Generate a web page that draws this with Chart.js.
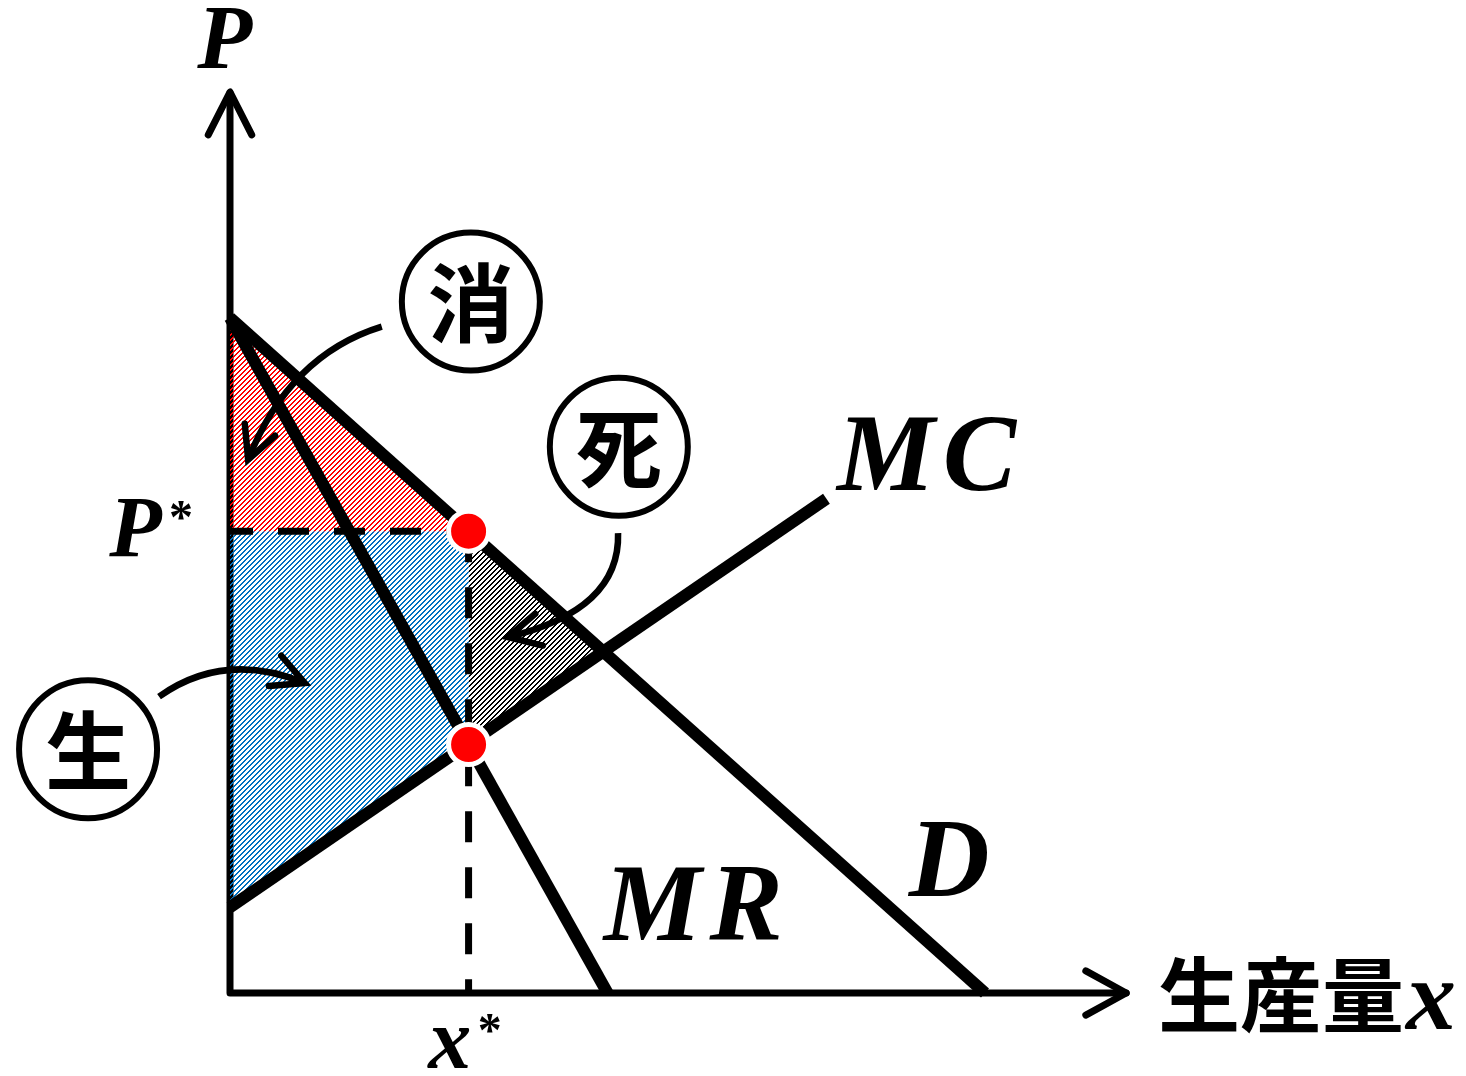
<!DOCTYPE html>
<html lang="ja">
<head>
<meta charset="UTF-8">
<title>独占市場の余剰</title>
<script src="https://cdn.jsdelivr.net/npm/chart.js"></script>
<style>
    body {
        margin: 0;
        background: #ffffff;
    }
    #wrap {
        width: 1466px;
        height: 1076px;
    }
</style>
</head>
<body>
<div id="wrap"><canvas id="chart" width="1466" height="1076"></canvas></div>
<script>
// curves (x = 生産量, y = P), end points
const demandLine = [{x: 0, y: 100}, {x: 100, y: 0}];
const mrLine = [{x: 0, y: 100}, {x: 50, y: 0}];
const mcLine = [{x: 0, y: 12.7}, {x: 79, y: 73.2}];

// monopoly equilibrium: MR = MC at x*, price on D
const xStar = 31.6;
const pStar = 68.4;
const mcAtStar = 36.8;
const dCrossMc = {x: 49.55, y: 50.45};

// surplus areas (closed polygons)
const consumerArea = [{x: 0, y: 100}, {x: xStar, y: pStar}, {x: 0, y: pStar}, {x: 0, y: 100}];
const producerArea = [{x: 0, y: pStar}, {x: xStar, y: pStar}, {x: xStar, y: mcAtStar}, {x: 0, y: 12.7}, {x: 0, y: pStar}];
const deadweightArea = [{x: xStar, y: pStar}, dCrossMc, {x: xStar, y: mcAtStar}, {x: xStar, y: pStar}];

const equilibriumPoints = [{x: xStar, y: pStar}, {x: xStar, y: mcAtStar}];

// axis extent
const xMax = 120;
const yMax = 133;
const xArrowEnd = 118.7;

// annotations, in data units
const circleNotes = [
    {text: '消', x: 31.9, y: 102.4},
    {text: '死', x: 51.5, y: 80.9},
    {text: '生', x: -18.8, y: 36.1}
];
const arrowNotes = [
    {from: [20.1, 98.7], ctrl: [7.9, 94.5], to: [2.4, 79.0]},
    {from: [51.4, 68.1], ctrl: [51.7, 56.7], to: [36.8, 52.7]},
    {from: [-9.4, 43.9], ctrl: [-0.7, 50.8], to: [9.9, 45.9]}
];

const SERIF = '"Liberation Serif", "DejaVu Serif", serif';
const CJK = '"Noto Sans CJK JP", "Noto Sans CJK SC", sans-serif';

const canvas = document.getElementById('chart');
const mainCtx = canvas.getContext('2d');

// crisp pixel hatching, "/" direction
function hatch(color) {
    const size = 5;
    const tile = document.createElement('canvas');
    tile.width = size;
    tile.height = size;
    const g = tile.getContext('2d');
    g.fillStyle = color;
    for (let y = 0; y < size; y++) {
        for (let k = 0; k < 2; k++) {
            g.fillRect((size - 1 - y + k) % size, y, 1, 1);
        }
    }
    return mainCtx.createPattern(tile, 'repeat');
}

function areaSet(data, pattern) {
    return {
        data: data,
        fill: 'shape',
        backgroundColor: pattern,
        borderWidth: 0,
        pointRadius: 0,
        order: 10
    };
}

function curveSet(data) {
    return {
        data: data,
        borderColor: '#000',
        borderWidth: 12,
        pointRadius: 0,
        fill: false,
        clip: false,
        order: 4
    };
}

function dashSet(data, offset) {
    return {
        data: data,
        borderColor: '#000',
        borderWidth: 7,
        borderDash: [31, 25],
        borderDashOffset: offset,
        pointRadius: 0,
        fill: false,
        order: 6
    };
}

function drawArrowHead(ctx, tipX, tipY, backX, backY, len, spread) {
    const ang = Math.atan2(backY - tipY, backX - tipX);
    ctx.beginPath();
    ctx.moveTo(tipX + len * Math.cos(ang - spread), tipY + len * Math.sin(ang - spread));
    ctx.lineTo(tipX, tipY);
    ctx.lineTo(tipX + len * Math.cos(ang + spread), tipY + len * Math.sin(ang + spread));
    ctx.stroke();
}

const axesPlugin = {
    id: 'axesPlugin',
    beforeDatasetsDraw(chart) {
        const ctx = chart.ctx;
        const sx = v => chart.scales.x.getPixelForValue(v);
        const sy = v => chart.scales.y.getPixelForValue(v);
        ctx.save();
        ctx.strokeStyle = '#000';
        ctx.lineWidth = 7;
        ctx.lineCap = 'round';
        ctx.lineJoin = 'round';
        ctx.beginPath();
        ctx.moveTo(sx(0), sy(yMax) - 2);
        ctx.lineTo(sx(0), sy(0));
        ctx.lineTo(sx(xArrowEnd), sy(0));
        ctx.stroke();
        drawArrowHead(ctx, sx(0), sy(yMax) - 3, sx(0), sy(0), 48, 0.47);
        drawArrowHead(ctx, sx(xArrowEnd), sy(0), sx(0), sy(0), 46, 0.5);
        ctx.restore();
    }
};

const notesPlugin = {
    id: 'notesPlugin',
    afterDraw(chart) {
        const ctx = chart.ctx;
        const sx = v => chart.scales.x.getPixelForValue(v);
        const sy = v => chart.scales.y.getPixelForValue(v);
        ctx.save();
        ctx.fillStyle = '#000';
        ctx.strokeStyle = '#000';

        // circled labels
        circleNotes.forEach(n => {
            ctx.lineWidth = 6;
            ctx.beginPath();
            ctx.arc(sx(n.x), sy(n.y), 69, 0, Math.PI * 2);
            ctx.stroke();
            ctx.font = 'bold 86px ' + CJK;
            ctx.textAlign = 'center';
            ctx.textBaseline = 'middle';
            ctx.fillText(n.text, sx(n.x), sy(n.y) + 2);
        });

        // curved arrows
        arrowNotes.forEach(a => {
            const x0 = sx(a.from[0]), y0 = sy(a.from[1]);
            const cx = sx(a.ctrl[0]), cy = sy(a.ctrl[1]);
            const x1 = sx(a.to[0]), y1 = sy(a.to[1]);
            ctx.lineWidth = 6.5;
            ctx.lineCap = 'butt';
            ctx.beginPath();
            ctx.moveTo(x0, y0);
            ctx.quadraticCurveTo(cx, cy, x1, y1);
            ctx.stroke();
            ctx.lineCap = 'round';
            ctx.lineJoin = 'miter';
            drawArrowHead(ctx, x1, y1, cx, cy, 36, 0.47);
        });

        // axis and curve labels
        ctx.textBaseline = 'alphabetic';
        ctx.textAlign = 'center';
        ctx.font = 'italic bold 90px ' + SERIF;
        ctx.fillText('P', sx(-0.7), sy(137));

        ctx.font = 'italic bold 86px ' + SERIF;
        ctx.fillText('P', sx(-12.5), sy(64.7));
        ctx.fillText('x', sx(29.1), sy(-11.1));
        ctx.font = 'bold 48px ' + SERIF;
        ctx.fillText('*', sx(-6.5), sy(68.1));
        ctx.fillText('*', sx(34.4), sy(-7.9));

        ctx.textAlign = 'left';
        ctx.font = 'italic bold 110px ' + SERIF;
        ctx.letterSpacing = '8px';
        ctx.fillText('MC', sx(80.4), sy(74.5));
        ctx.fillText('MR', sx(49.5), sy(7.85));
        ctx.letterSpacing = '0px';
        ctx.font = 'italic bold 112px ' + SERIF;
        ctx.fillText('D', sx(89.9), sy(14.3));

        ctx.font = 'bold 82px ' + CJK;
        const title = '生産量';
        ctx.fillText(title, sx(122.9), sy(-4.9));
        const tw = ctx.measureText(title).width;
        ctx.font = 'italic bold 100px ' + SERIF;
        ctx.fillText('x', sx(122.9) + tw + 2, sy(-5.4));
        ctx.restore();
    }
};

new Chart(mainCtx, {
    type: 'line',
    data: {
        datasets: [
            {
                data: equilibriumPoints,
                showLine: false,
                pointRadius: 20,
                pointBackgroundColor: '#ff0000',
                pointBorderColor: '#ffffff',
                pointBorderWidth: 5,
                clip: false,
                order: 1
            },
            curveSet(demandLine),
            curveSet(mrLine),
            curveSet(mcLine),
            dashSet([{x: 0, y: pStar}, {x: xStar, y: pStar}], 8),
            dashSet([{x: xStar, y: pStar}, {x: xStar, y: 0}], 0),
            areaSet(consumerArea, hatch('#ff0000')),
            areaSet(producerArea, hatch('#0070c0')),
            areaSet(deadweightArea, hatch('#000000'))
        ]
    },
    options: {
        responsive: false,
        animation: false,
        events: [],
        layout: {
            padding: {left: 230, right: 330, top: 95, bottom: 83}
        },
        scales: {
            x: {type: 'linear', min: 0, max: xMax, display: false},
            y: {type: 'linear', min: 0, max: yMax, display: false}
        },
        plugins: {
            legend: {display: false},
            tooltip: {enabled: false}
        }
    },
    plugins: [axesPlugin, notesPlugin]
});
</script>
</body>
</html>
